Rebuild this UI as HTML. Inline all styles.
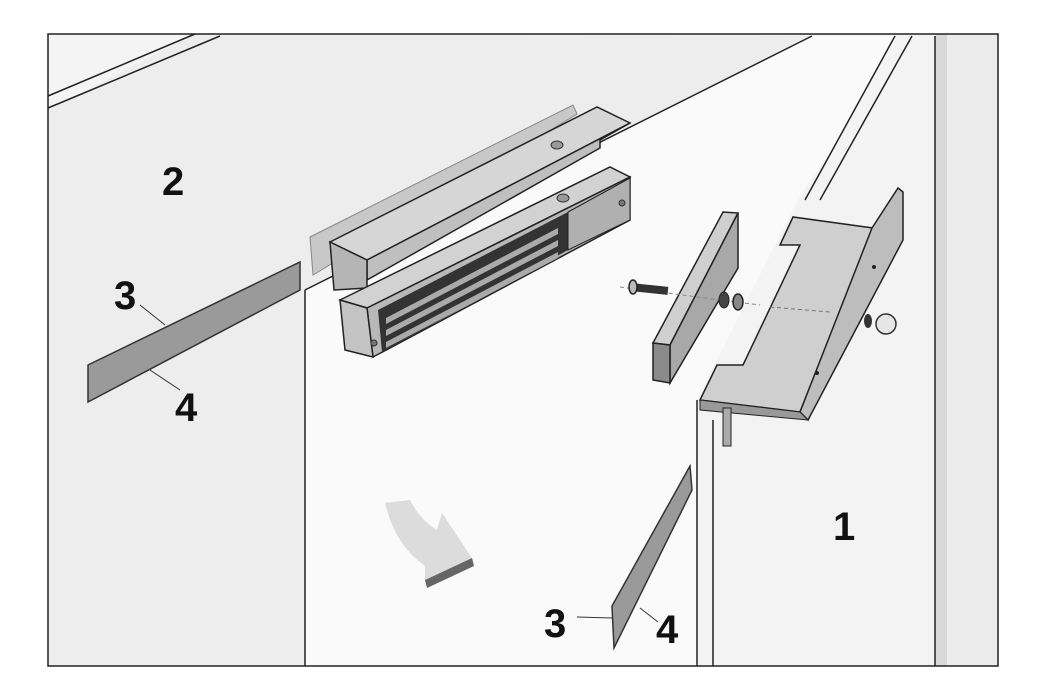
<!DOCTYPE html>
<html><head><style>
html,body{margin:0;padding:0;background:#fff;}
svg{display:block;}
text{font-family:"Liberation Sans",sans-serif;font-weight:bold;fill:#111;}
</style></head><body>
<svg width="1047" height="700" viewBox="0 0 1047 700" xmlns="http://www.w3.org/2000/svg">
<rect x="0" y="0" width="1047" height="700" fill="#fff"/>
<!-- background areas -->
<rect x="48" y="34" width="950" height="632" fill="#f4f4f4"/>
<polygon points="48,110 48,666 305,666 305,290 812,36 195,34" fill="#ededed"/>
<polygon points="305,290 812,36 895,36 697,400 697,666 305,666" fill="#fafafa"/>
<polygon points="697,400 800,195 912,36 935,36 935,666 713,666" fill="#f3f3f3"/>
<rect x="935" y="34" width="12" height="632" fill="#d8d8d8"/>
<rect x="947" y="34" width="51" height="632" fill="#ececec"/>
<!-- lines -->
<g stroke="#222" stroke-width="1.5" fill="none">
<line x1="48" y1="96" x2="195" y2="34"/>
<line x1="48" y1="108" x2="220" y2="36"/>
<line x1="305" y1="290" x2="812" y2="36"/>
<line x1="305" y1="290" x2="305" y2="666"/>
<line x1="697" y1="400" x2="697" y2="666"/>
<line x1="713" y1="420" x2="713" y2="666"/>
<line x1="805" y1="200" x2="895" y2="36"/>
<line x1="820" y1="200" x2="912" y2="36"/>
<line x1="935" y1="36" x2="935" y2="666"/>
</g>
<rect x="48" y="34" width="950" height="632" fill="none" stroke="#222" stroke-width="1.5"/>
<!-- left plate -->
<polygon points="88,365 300,262 300,290 88,402" fill="#9a9a9a" stroke="#333" stroke-width="1.5"/>
<line x1="140" y1="305" x2="165" y2="325" stroke="#333"/>
<line x1="150" y1="370" x2="180" y2="390" stroke="#333"/>
<!-- lower plate -->
<polygon points="612,606 690,466 692,490 614,648" fill="#9a9a9a" stroke="#333" stroke-width="1.5"/>
<line x1="577" y1="617" x2="612" y2="618" stroke="#333"/>
<line x1="640" y1="608" x2="658" y2="622" stroke="#333"/>
<!-- back plate -->
<polygon points="310,237 573,105 577,114 313,275" fill="#c8c8c8" stroke="#888" stroke-width="1"/>
<!-- bracket -->
<polygon points="330,242 597,107 630,123 367,260" fill="#d6d6d6" stroke="#222" stroke-width="1.5"/>
<polygon points="367,260 630,123 600,140 600,148 367,280" fill="#bfbfbf" stroke="#222" stroke-width="1.5"/>
<polygon points="330,242 367,260 367,288 334,290" fill="#b5b5b5" stroke="#222" stroke-width="1.5"/>
<ellipse cx="557" cy="145" rx="6" ry="4" fill="#999" stroke="#333"/>
<!-- magnet body -->
<polygon points="340,300 610,167 630,177 367,308" fill="#d2d2d2" stroke="#222" stroke-width="1.5"/>
<polygon points="367,308 630,177 630,220 373,357" fill="#b8b8b8" stroke="#222" stroke-width="1.5"/>
<polygon points="340,300 367,308 373,357 345,350" fill="#c4c4c4" stroke="#222" stroke-width="1.5"/>
<polygon points="378,310 568,212 568,250 382,352" fill="#333"/>
<polygon points="386,318 558,228 558,234 386,324" fill="#aaa"/>
<polygon points="386,330 558,240 558,246 386,336" fill="#aaa"/>
<polygon points="386,342 558,252 558,258 386,348" fill="#aaa"/>
<polygon points="568,212 630,178 630,220 568,250" fill="#b0b0b0" stroke="#222"/>
<ellipse cx="563" cy="198" rx="6" ry="4" fill="#999" stroke="#333"/>
<circle cx="374" cy="343" r="3" fill="#777" stroke="#333"/>
<circle cx="622" cy="203" r="3" fill="#777" stroke="#333"/>
<!-- armature plate -->
<polygon points="653,343 723,212 738,213 670,345" fill="#cfcfcf" stroke="#222" stroke-width="1.5"/>
<polygon points="670,345 738,213 738,268 670,383" fill="#a8a8a8" stroke="#222" stroke-width="1.5"/>
<polygon points="653,343 670,345 670,383 653,380" fill="#8a8a8a" stroke="#222" stroke-width="1.5"/>
<!-- bolt + washers -->
<line x1="620" y1="287" x2="760" y2="305" stroke="#888" stroke-dasharray="4,3"/>
<rect x="635" y="285" width="33" height="8" fill="#333" transform="rotate(6 650 289)"/>
<ellipse cx="633" cy="287" rx="4" ry="7" fill="#bbb" stroke="#222" stroke-width="1.5"/>
<ellipse cx="724" cy="300" rx="5" ry="8" fill="#444" stroke="#222"/>
<ellipse cx="738" cy="302" rx="5" ry="8" fill="#888" stroke="#222" stroke-width="1.5"/>
<!-- L bracket -->
<polygon points="700,400 717,365 743,365 800,245 780,245 793,217 873,228 800,412" fill="#cfcfcf" stroke="#222" stroke-width="1.5"/>
<polygon points="872,228 898,188 903,192 903,240 808,420 800,412" fill="#bdbdbd" stroke="#222" stroke-width="1.5"/>
<polygon points="700,400 800,412 808,420 700,410" fill="#999" stroke="#222"/>
<rect x="723" y="408" width="8" height="38" fill="#aaa" stroke="#222"/>
<line x1="770" y1="307" x2="830" y2="312" stroke="#777" stroke-dasharray="4,3"/>
<ellipse cx="868" cy="321" rx="4" ry="7" fill="#333"/>
<ellipse cx="886" cy="324" rx="10" ry="10" fill="#e6e6e6" stroke="#333" stroke-width="1.5"/>
<circle cx="874" cy="267" r="2" fill="#222"/><circle cx="817" cy="373" r="2" fill="#222"/>
<!-- curved arrow -->
<path d="M385,503 L410,500 Q420,520 437,530 L442,513 L472,558 L425,580 L425,566 Q395,545 385,503 Z" fill="#dcdcdc"/>
<polygon points="425,580 472,558 474,566 427,588" fill="#666"/>
<!-- labels -->
<text x="162" y="195" font-size="40">2</text>
<text x="114" y="309" font-size="40">3</text>
<text x="175" y="421" font-size="40">4</text>
<text x="833" y="540" font-size="40">1</text>
<text x="544" y="637" font-size="40">3</text>
<text x="656" y="643" font-size="40">4</text>
</svg>
</body></html>
